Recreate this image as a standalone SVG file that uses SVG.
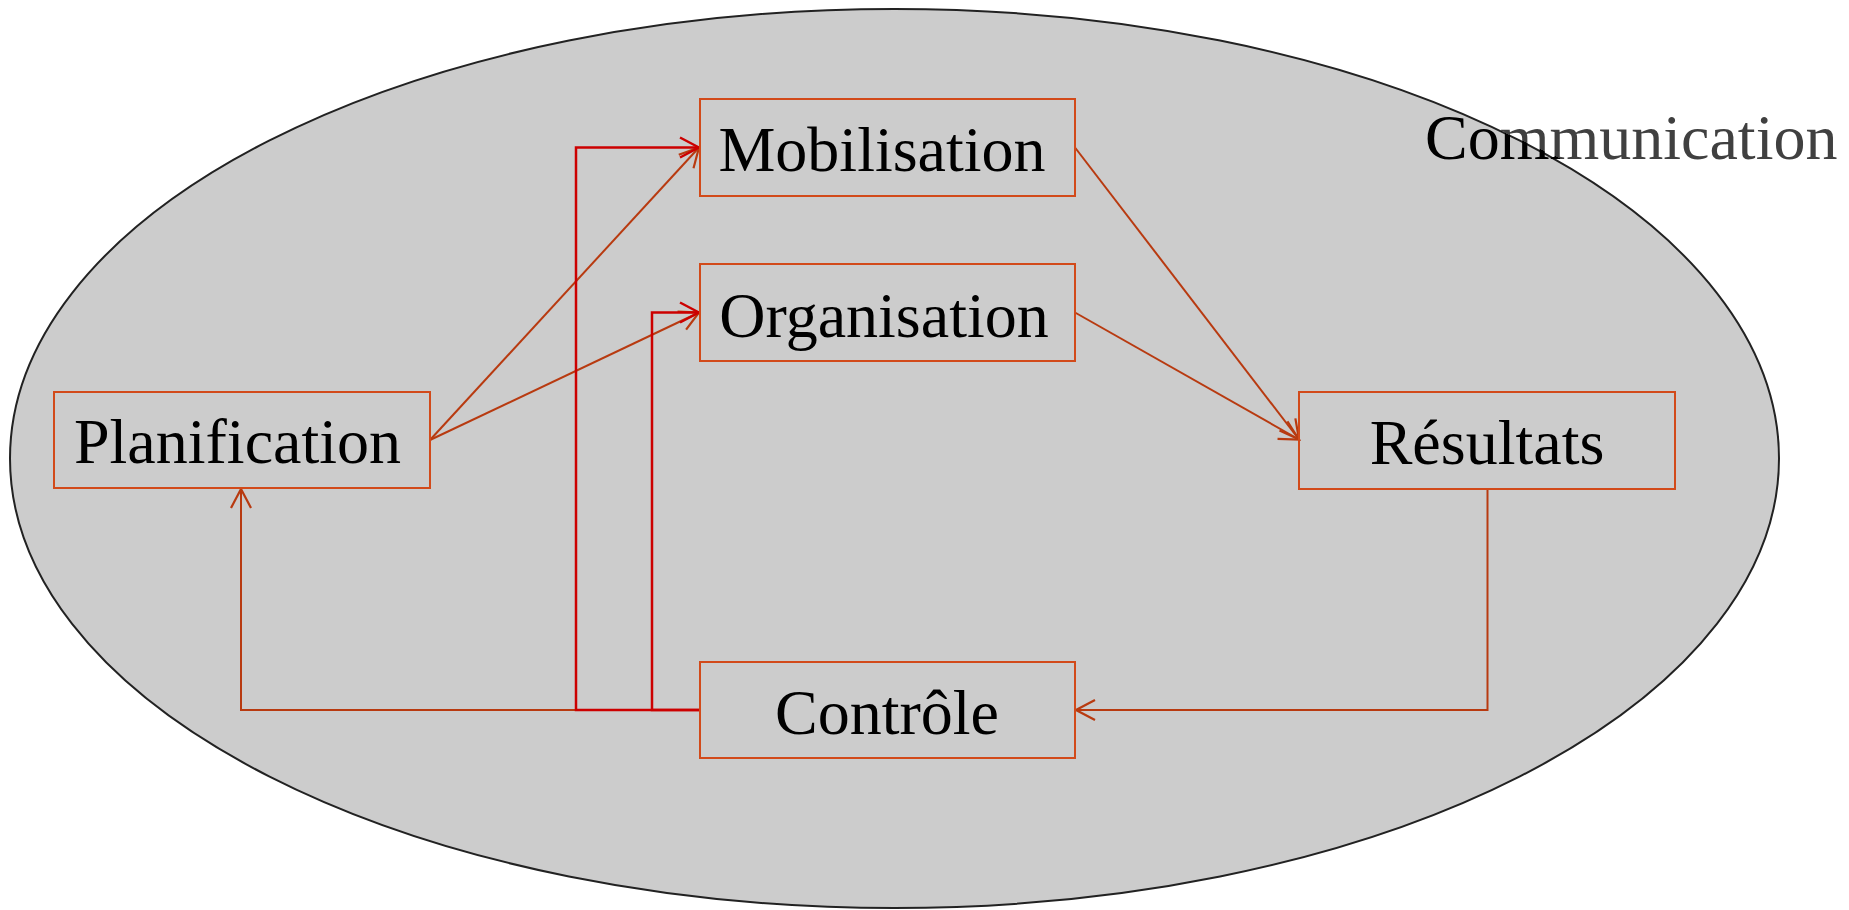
<svg xmlns="http://www.w3.org/2000/svg" width="1849" height="910" viewBox="0 0 1849 910">
<style>
.box{fill:none;stroke:#d24a1a;stroke-width:2}
.lbl{font-family:"Liberation Serif","Times New Roman",serif;font-size:64px;fill:#000;text-anchor:middle}
.con{fill:none;stroke:#b83a10;stroke-width:2}
.red{fill:none;stroke:#cc0000;stroke-width:2.5}
</style>
<defs>
<marker id="ao" viewBox="-22 -12 24 24" markerWidth="24" markerHeight="24" refX="0" refY="0" orient="auto" markerUnits="userSpaceOnUse">
<path d="M-19,-10 L0,0 L-19,10" fill="none" stroke="#b83a10" stroke-width="2.2"/>
</marker>
<marker id="ar" viewBox="-22 -12 24 24" markerWidth="24" markerHeight="24" refX="0" refY="0" orient="auto" markerUnits="userSpaceOnUse">
<path d="M-19,-10 L0,0 L-19,10" fill="none" stroke="#cc0000" stroke-width="2.5"/>
</marker>
<linearGradient id="commFill" gradientUnits="userSpaceOnUse" x1="1483.6" y1="134.1" x2="1492" y2="115.9">
<stop offset="0" stop-color="#000"/>
<stop offset="0.5" stop-color="#000"/>
<stop offset="0.5" stop-color="#404040"/>
<stop offset="1" stop-color="#404040"/>
</linearGradient>
</defs>
<rect width="1849" height="910" fill="#fff"/>
<g id="communication">
<ellipse cx="894.5" cy="458.5" rx="884.5" ry="449.5" fill="#cccccc" stroke="#222" stroke-width="2"/>
<text x="1425" y="159" font-family="Liberation Serif, Times New Roman, serif" font-size="64" fill="url(#commFill)">Communication</text>
</g>
<g id="connectors">
<path class="con" d="M430,440 L699,147.5" marker-end="url(#ao)"/>
<path class="con" d="M430,440 L699,312.5" marker-end="url(#ao)"/>
<path class="con" d="M1075,147.5 L1299,439.5" marker-end="url(#ao)"/>
<path class="con" d="M1075,312.5 L1299,439.5" marker-end="url(#ao)"/>
<path class="con" d="M1487.5,489 V710 H1076" marker-end="url(#ao)"/>
<path class="con" d="M700,710 H241 V489" marker-end="url(#ao)"/>
<path class="red" d="M700,710 H576 V147.5 H699" marker-end="url(#ar)"/>
<path class="red" d="M700,710 H652 V312.5 H699" marker-end="url(#ar)"/>
</g>
<g id="mobilisation">
<rect class="box" x="700" y="99" width="375" height="97"/>
<text class="lbl" x="882" y="171">Mobilisation</text>
</g>
<g id="organisation">
<rect class="box" x="700" y="264" width="375" height="97"/>
<text class="lbl" x="884" y="337">Organisation</text>
</g>
<g id="planification">
<rect class="box" x="54" y="392" width="376" height="96"/>
<text class="lbl" x="237.5" y="463">Planification</text>
</g>
<g id="resultats">
<rect class="box" x="1299" y="392" width="376" height="97"/>
<text class="lbl" x="1487" y="464">Résultats</text>
</g>
<g id="controle">
<rect class="box" x="700" y="662" width="375" height="96"/>
<text class="lbl" x="887" y="734">Contrôle</text>
</g>
</svg>
